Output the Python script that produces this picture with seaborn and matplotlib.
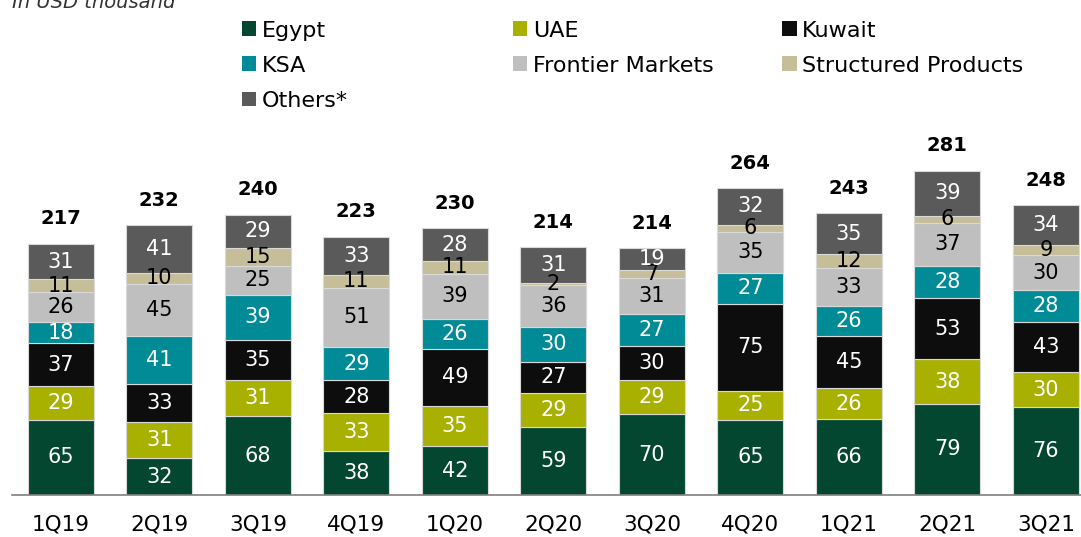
import pandas as pd
import matplotlib.pyplot as plt
import seaborn as sns
from matplotlib.patches import Patch

# Quarterly values, in USD thousand
quarters = ['1Q19', '2Q19', '3Q19', '4Q19', '1Q20', '2Q20', '3Q20', '4Q20', '1Q21', '2Q21', '3Q21']
egypt = [65, 32, 68, 38, 42, 59, 70, 65, 66, 79, 76]
uae = [29, 31, 31, 33, 35, 29, 29, 25, 26, 38, 30]
kuwait = [37, 33, 35, 28, 49, 27, 30, 75, 45, 53, 43]
ksa = [18, 41, 39, 29, 26, 30, 27, 27, 26, 28, 28]
frontier = [26, 45, 25, 51, 39, 36, 31, 35, 33, 37, 30]
structured = [11, 10, 15, 11, 11, 2, 7, 6, 12, 6, 9]
others = [31, 41, 29, 33, 28, 31, 19, 32, 35, 39, 34]
totals = [217, 232, 240, 223, 230, 214, 214, 264, 243, 281, 248]

series = ['Egypt', 'UAE', 'Kuwait', 'KSA', 'Frontier Markets', 'Structured Products', 'Others*']
values = [egypt, uae, kuwait, ksa, frontier, structured, others]
colors = ['#034730', '#A8B000', '#0D0D0D', '#008B96', '#BFBFBF', '#C5BE98', '#5A5A5A']
text_colors = ['white', 'white', 'white', 'white', 'black', 'black', 'white']

sns.set_style('white')
plt.rcParams['font.family'] = ['DejaVu Sans']
plt.rcParams['text.color'] = 'black'
plt.rcParams['xtick.color'] = 'black'

fig = plt.figure(figsize=(10.81, 5.37), dpi=100)
ax = fig.add_axes([0.011, 0.078, 0.989, 0.68])

bottom = [0] * len(quarters)
for name, vals, col, tcol in zip(series, values, colors, text_colors):
    df = pd.DataFrame({'quarter': quarters, 'value': vals})
    sns.barplot(data=df, x='quarter', y='value', order=quarters, color=col,
                bottom=bottom, width=0.67, edgecolor='#D9D9D9', linewidth=0.8,
                saturation=1, ax=ax, errorbar=None)
    for i, v in enumerate(vals):
        ax.text(i, bottom[i] + v / 2, str(v), ha='center', va='center',
                color=tcol, fontsize=15)
    bottom = [b + v for b, v in zip(bottom, vals)]

for i, t in enumerate(totals):
    ax.annotate(str(t), (i, bottom[i]), xytext=(0, 11), textcoords='offset points',
                ha='center', va='bottom', fontsize=14, fontweight='bold')

ax.set_xlim(-0.497, 10.356)
ax.set_ylim(0, 315)
ax.set_xlabel('')
ax.set_ylabel('')
ax.set_yticks([])
ax.tick_params(axis='x', length=0, pad=14, labelsize=15.5)
for s in ['top', 'right', 'left']:
    ax.spines[s].set_visible(False)
ax.spines['bottom'].set_color('#7F7F7F')
ax.spines['bottom'].set_linewidth(1.2)

fig.text(0.011, 0.995, 'In USD thousand', style='italic', fontsize=14, color='#333333',
         ha='left', va='center')

# legend in three columns
columns = [[0, 3, 6], [1, 4], [2, 5]]
xs = [0.205, 0.456, 0.705]
for col_idx, x in zip(columns, xs):
    handles = [Patch(facecolor=colors[k], edgecolor='none') for k in col_idx]
    labels = [series[k] for k in col_idx]
    fig.legend(handles, labels, loc='upper left', bbox_to_anchor=(x, 0.999),
               frameon=False, fontsize=16, handlelength=0.65, handleheight=0.65,
               handletextpad=0.25, labelspacing=0.68, borderaxespad=0.5)

plt.savefig('out.png', dpi=100)
